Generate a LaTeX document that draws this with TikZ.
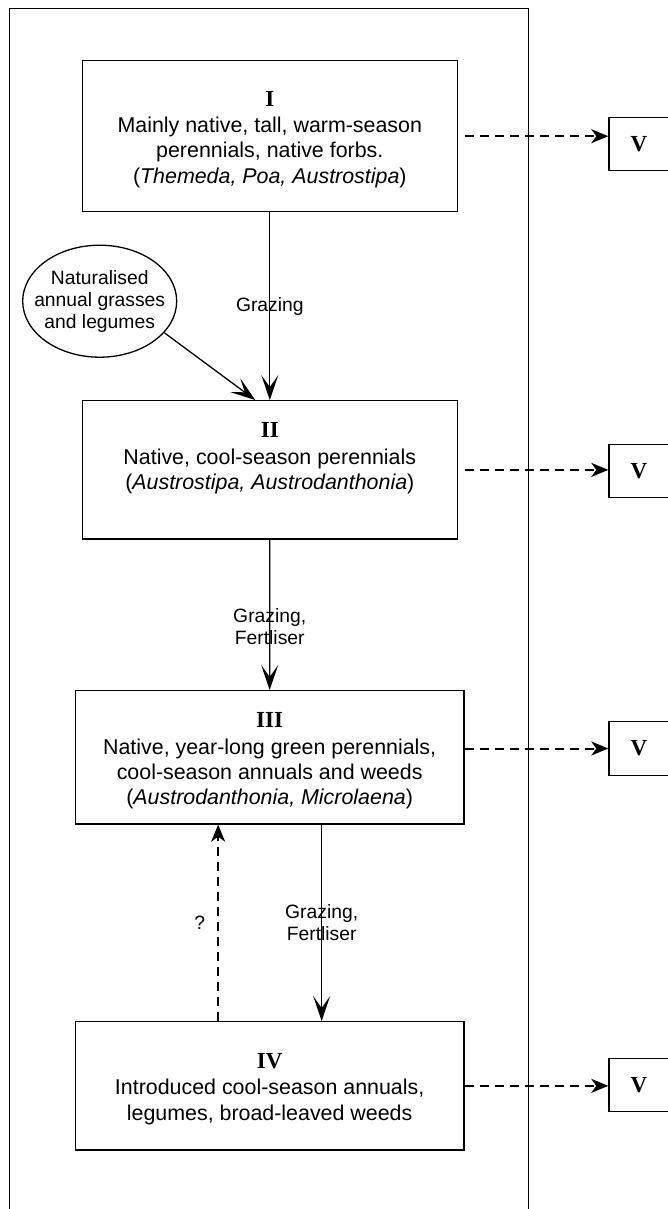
\documentclass[tikz,border=0pt]{standalone}
\usepackage{fontspec}
\setmainfont{Liberation Serif}
\setsansfont{Liberation Sans}
\usetikzlibrary{shapes.geometric,arrows.meta,positioning}

\tikzset{
  stage/.style={draw,line width=1.4pt,minimum width=375pt,inner sep=0pt},
  widestage/.style={stage,minimum width=388.7pt},
  stagetext/.style={anchor=north,align=center,inner sep=0pt,font=\sffamily\fontsize{21.4}{25.3}\selectfont},
  endbox/.style={draw,line width=1.4pt,minimum width=60pt,minimum height=53.5pt,inner sep=0pt,font=\rmfamily\bfseries\fontsize{23}{26}\selectfont},
  driver/.style={align=center,inner sep=0pt,font=\sffamily\fontsize{19.3}{22}\selectfont},
  trend/.style={draw,line width=1.3pt,-{Stealth[length=25pt,width=17pt,inset=12pt]}},
  leakarrow/.style={draw,line width=2pt,dash pattern=on 9.3pt off 5.7pt,-{Stealth[length=17pt,width=14pt,inset=5pt]}},
}
\newcommand{\stagenum}[1]{{\rmfamily\bfseries\fontsize{23}{26}\selectfont #1}}

\begin{document}
\begin{tikzpicture}[x=1pt,y=-1pt]
                \useasboundingbox (0,0) rectangle (668,1209);

                % frame, open at the bottom
                \draw[line width=1.3pt] (9.4,1220) -- (9.4,8.3) -- (528.5,8.3) -- (528.5,1220);

                \node[stage,minimum height=151pt] (boxI) at (269.8,136.2) {};
                \node[stage,minimum height=138.3pt] (boxII) at (269.8,469.9) {};
                \node[widestage,minimum height=133.3pt] (boxIII) at (269.65,757.35) {};
                \node[widestage,minimum height=128.3pt] (boxIV) at (269.65,1085.85) {};

                \node[stagetext] (tI) at ([yshift=-31pt]boxI.north) {\stagenum{I}\\[1pt]Mainly native, tall, warm-season\\perennials, native forbs.\\(\textit{Themeda, Poa, Austrostipa})};
                \node[stagetext] (tII) at ([yshift=-22.6pt]boxII.north) {\stagenum{II}\\[1pt]Native, cool-season perennials\\(\textit{Austrostipa, Austrodanthonia})};
                \node[stagetext] (tIII) at ([yshift=-22.6pt]boxIII.north) {\stagenum{III}\\[1pt]Native, year-long green perennials,\\cool-season annuals and weeds\\(\textit{Austrodanthonia, Microlaena})};
                \node[stagetext] (tIV) at ([yshift=-32.3pt]boxIV.north) {\stagenum{IV}\\[1pt]Introduced cool-season annuals,\\legumes, broad-leaved weeds};

                \node[endbox] (vI) at (639,144) {V};
                \node[endbox] (vII) at (639,471) {V};
                \node[endbox] (vIII) at (639,748.5) {V};
                \node[endbox] (vIV) at (639,1085) {V};

                \node[draw,ellipse,line width=1.3pt,minimum width=154pt,minimum height=112pt,driver,inner xsep=-12pt] (nat) at (99.7,301.2) {Naturalised\\annual grasses\\and legumes};

                \path[trend] (boxI.south) -- node[driver,midway] (gI) {Grazing} (boxII.north);
                \path[trend] (nat.-26) -- ([xshift=-14.5pt]boxII.north);
                \path[trend] (boxII.south) -- node[driver,pos=0.58] (gII) {Grazing,\\Fertliser} (boxIII.north);
                \path[trend] ([xshift=52pt]boxIII.south) -- node[driver,midway] (gIII) {Grazing,\\Fertliser} ([xshift=52pt]boxIV.north);
                \path[leakarrow] ([xshift=-51.5pt]boxIV.north) -- node[driver,midway,left=12pt] (back) {?} ([xshift=-51.5pt]boxIII.south);

                \path[leakarrow,shorten <=6.5pt] (boxI.east) -- (boxI.east -| vI.west);
                \path[leakarrow,shorten <=6.5pt] (boxII.east) -- (boxII.east -| vII.west);
                \path[leakarrow] (boxIII.east |- vIII.west) -- (vIII.west);
                \path[leakarrow] (boxIV.east) -- (boxIV.east -| vIV.west);

\end{tikzpicture}
\end{document}
